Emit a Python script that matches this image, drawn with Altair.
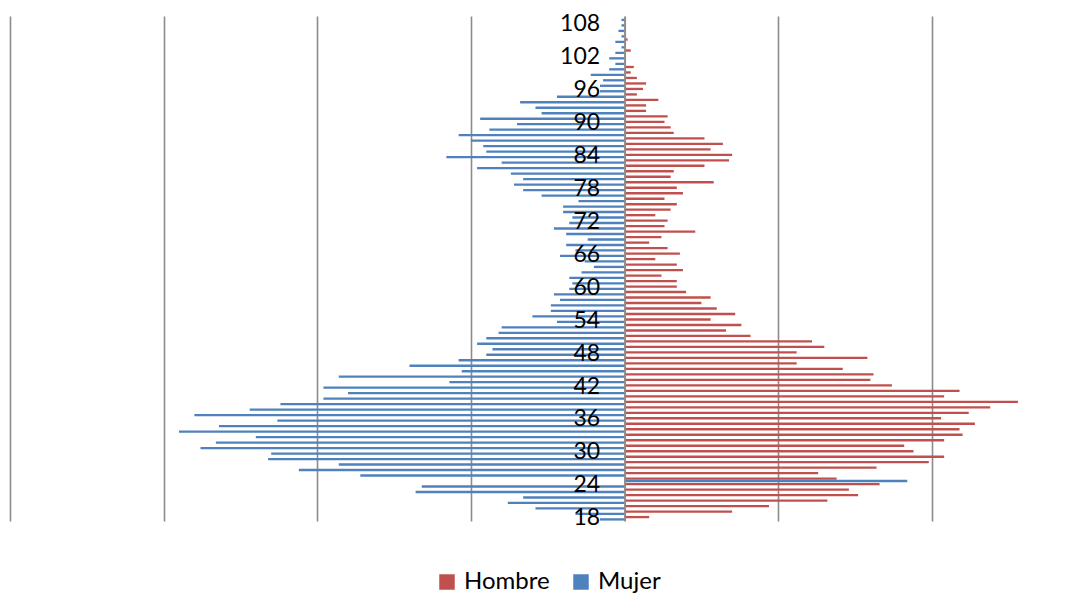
import altair as alt
import pandas as pd

# Ages 18..109 (bottom to top)
ages = list(range(18, 110))

# Hombre (right side), counts by age 18..109
hombre = [8, 35, 47, 66, 76, 73, 83, 69, 63, 82,
          99, 104, 94, 91, 104, 110, 109, 114, 103, 112,
          119, 128, 104, 109, 87, 80, 81, 71, 56, 79,
          56, 65, 61, 41, 33, 38, 28, 36, 30, 25,
          28, 20, 17, 17, 12, 19, 17, 10, 18, 14,
          8, 12, 23, 13, 14, 10, 15, 17, 13, 19,
          17, 29, 15, 16, 26, 34, 35, 28, 32, 26,
          16, 15, 13, 14, 7, 7, 11, 4, 6, 7,
          4, 2, 3, 0, 0, 2, 0, 1, 0, 0,
          0, 0]

# Mujer (left side, plotted negative; age 25 appears on the right in the source)
mujer = [-8, -16, -29, -38, -33, -68, -66, 92, -86, -106,
         -93, -116, -115, -138, -133, -120, -145, -132, -113, -140,
         -122, -112, -98, -90, -98, -57, -93, -53, -70, -54,
         -45, -43, -48, -45, -41, -40, -22, -30, -24, -24,
         -21, -23, -18, -17, -18, -14, -10, -13, -21, -16,
         -19, -12, -19, -23, -18, -17, -20, -20, -15, -27,
         -33, -36, -33, -37, -48, -40, -58, -45, -46, -50,
         -54, -44, -35, -47, -27, -29, -34, -22, -8, -8,
         -7, -11, -5, -3, -5, -3, -1, -3, -1, -2,
         -1, -1]

series = ["Hombre", "Mujer"]
colors = ["#C0504D", "#4F81BD"]
grid_values = [-200, -150, -100, -50, 50, 100]
label_ages = list(range(18, 109, 6))

rows = []
for a, h, m in zip(ages, hombre, mujer):
    rows.append({"edad": a, "sexo": "Hombre", "valor": h})
    rows.append({"edad": a, "sexo": "Mujer", "valor": m})
df = pd.DataFrame(rows)

W = 1054
xmin, xmax = -200, 143
zero_px = W * (0 - xmin) / (xmax - xmin)

chart = alt.Chart(df).mark_bar().encode(
    x=alt.X("valor:Q",
            scale=alt.Scale(domain=[xmin, xmax], nice=False, zero=True),
            axis=alt.Axis(values=grid_values, grid=True, labels=False, ticks=False,
                          domain=False, title=None, gridColor="#8c8c8c", gridWidth=1.6)),
    y=alt.Y("edad:O", sort="descending",
            scale=alt.Scale(paddingInner=0.15, paddingOuter=0.075),
            axis=alt.Axis(values=label_ages, offset=-zero_px, ticks=False, labelPadding=25,
                          labelFontSize=23, labelFont="Lato", labelColor="black",
                          domainColor="#8c8c8c", domainWidth=2, title=None, grid=False,
                          zindex=1)),
    yOffset=alt.YOffset("sexo:N", scale=alt.Scale(domain=series)),
    color=alt.Color("sexo:N",
                    scale=alt.Scale(domain=series, range=colors),
                    legend=alt.Legend(orient="none", legendX=425, legendY=554,
                                      direction="horizontal", symbolType="square",
                                      symbolSize=240, symbolStrokeWidth=0,
                                      labelFontSize=24, labelFont="Lato",
                                      labelColor="black", columnPadding=19,
                                      labelOffset=5, padding=0, title=None)),
).properties(
    width=W,
    height=505,
    padding={"left": 2, "top": 8, "right": 0, "bottom": 73},
    autosize=alt.AutoSizeParams(type="none"),
).configure_view(stroke=None)

chart.save("out.html", embed_options={"renderer": "svg", "actions": False})
